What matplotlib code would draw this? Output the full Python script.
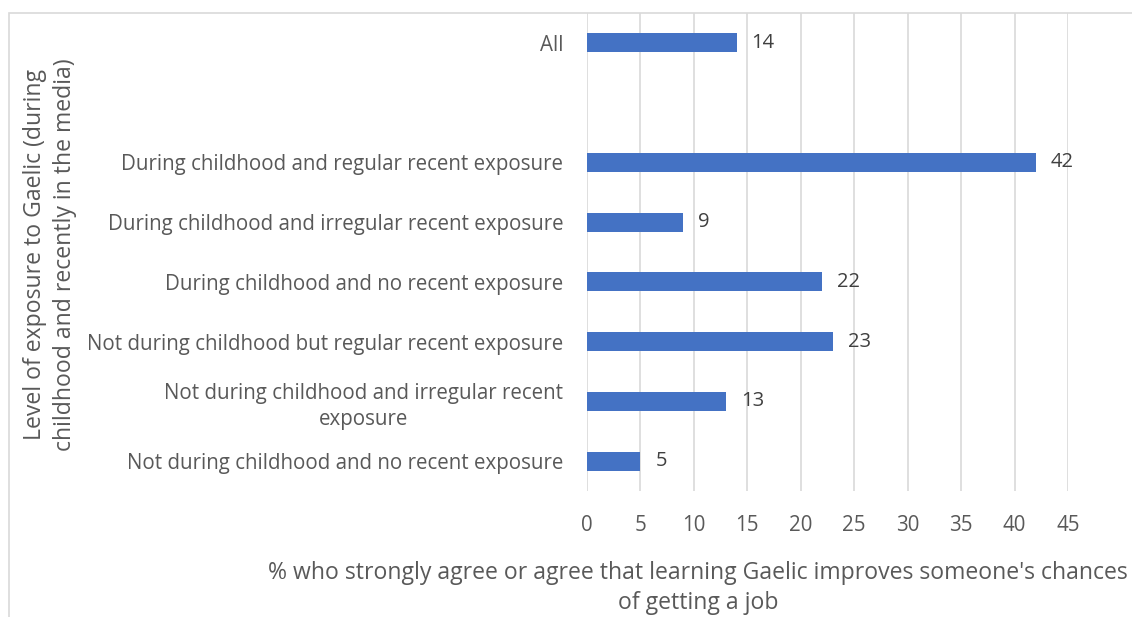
import numpy as np
import matplotlib.pyplot as plt
from matplotlib.patches import Rectangle

plt.rcParams['font.family'] = ['Open Sans', 'DejaVu Sans']

categories = ["All",
              "",
              "During childhood and regular recent exposure",
              "During childhood and irregular recent exposure",
              "During childhood and no recent exposure",
              "Not during childhood but regular recent exposure",
              "Not during childhood and irregular recent\nexposure",
              "Not during childhood and no recent exposure"]
values = [14, None, 42, 9, 22, 23, 13, 5]
xticks = [0, 5, 10, 15, 20, 25, 30, 35, 40, 45]

fig = plt.figure(figsize=(11.32, 6.17), dpi=100)
ax = fig.add_axes([587/1132, 1-491/617, 481/1132, 478/617])

# outer chart frame (cropped on right and bottom)
fig.patches.append(Rectangle((8.5/1132, -0.1), 1.2, 1 - 12.5/617 + 0.1,
                             transform=fig.transFigure, fill=False,
                             edgecolor='#D9D9D9', linewidth=1.2))

ypos = np.arange(len(categories))
for y, v in zip(ypos, values):
    if v is None:
        continue
    ax.barh(y, v, height=0.32, color='#4472C4', zorder=3)
    ax.text(v + 1.4, y, str(v), va='center', ha='left', fontsize=14.5, color='#404040')

ax.set_ylim(len(categories) - 0.5, -0.5)
ax.set_xlim(0, 45)
ax.set_xticks(xticks)
ax.set_yticks(ypos)
ax.set_yticklabels(categories, multialignment='center', linespacing=1.35)
ax.tick_params(axis='both', length=0, labelsize=14.8, labelcolor='#595959')
ax.tick_params(axis='y', pad=17)
ax.tick_params(axis='x', pad=17)
ax.grid(axis='x', color='#D9D9D9', linewidth=1.2, zorder=0)
for s in ax.spines.values():
    s.set_visible(False)

fig.text(698/1132, 1-588/617,
         "% who strongly agree or agree that learning Gaelic improves someone's chances\nof getting a job",
         ha='center', va='center', fontsize=16.6, color='#595959', multialignment='center', linespacing=1.3)
fig.text(50/1132, 1-255/617, "Level of exposure to Gaelic (during\nchildhood and recently in the media)",
         rotation=90, ha='center', va='center', fontsize=16.6, color='#595959',
         multialignment='center', linespacing=1.3)

plt.savefig("out.png", dpi=100)
